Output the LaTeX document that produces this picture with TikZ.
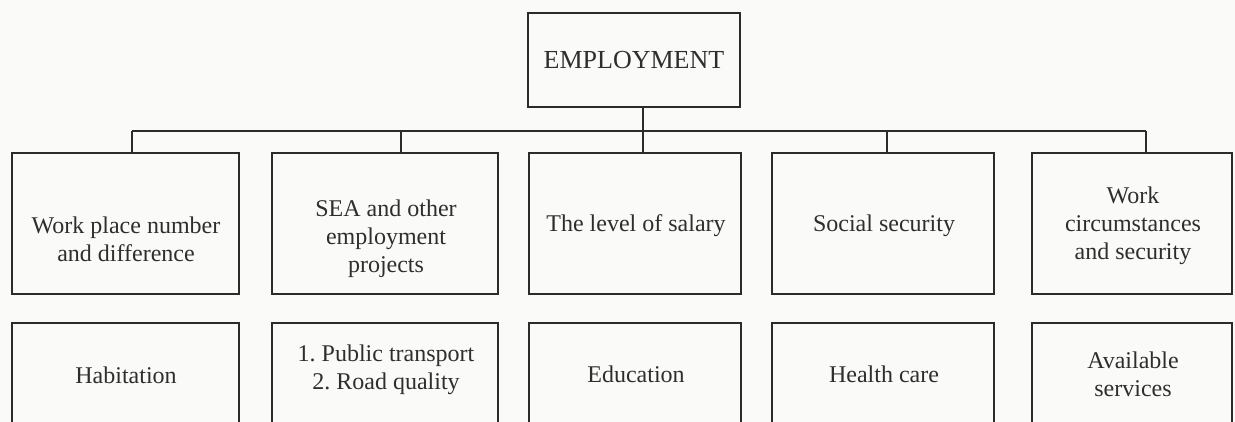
\documentclass[tikz,border=0pt]{standalone}
\usepackage{fontspec}
\setmainfont{Liberation Serif}
\frenchspacing
\begin{document}
\begin{tikzpicture}[x=1pt,y=-1pt,
  box/.style={draw=boxline, line width=1.6pt, inner sep=0pt, outer sep=0pt},
  lbl/.style={text=ink, font=\fontsize{24}{28}\selectfont, align=center, inner sep=0pt},
  link/.style={draw=boxline, line width=1.6pt}]
\definecolor{boxline}{HTML}{2B2B2B}
\definecolor{ink}{HTML}{2E2E2E}
\definecolor{paper}{HTML}{FAFAF8}
% canvas
\useasboundingbox (0,0) rectangle (1235,422);
\fill[paper] (0,0) rectangle (1235,422);
\clip (0,0) rectangle (1235,422);

% root
\node[box, text=ink, font=\fontsize{26}{30}\selectfont,
      minimum width=212pt, minimum height=94pt] (top) at (634,60) {EMPLOYMENT};

% first row of boxes
\node[box, minimum width=227pt, minimum height=141pt] (a1) at (125.5,223.5) {};
\node[box, minimum width=226pt, minimum height=141pt] (a2) at (385,223.5) {};
\node[box, minimum width=212pt, minimum height=141pt] (a3) at (635,223.5) {};
\node[box, minimum width=222pt, minimum height=141pt] (a4) at (883,223.5) {};
\node[box, minimum width=200pt, minimum height=141pt] (a5) at (1132,223.5) {};

\node[lbl] (ta1) at (126,239) {Work place number\\and difference};
\node[lbl] (ta2) at (386,239) {SEA and other\\employment\\projects};
\node[lbl] (ta3) at (636,226) {The level of salary};
\node[lbl] (ta4) at (884,226) {Social security};
\node[lbl] (ta5) at (1133,226) {Work\\circumstances\\and security};

% second row of boxes (running past the lower edge)
\node[box, minimum width=227pt, minimum height=130pt] (b1) at (125.5,388) {};
\node[box, minimum width=226pt, minimum height=130pt] (b2) at (385,388) {};
\node[box, minimum width=212pt, minimum height=130pt] (b3) at (635,388) {};
\node[box, minimum width=222pt, minimum height=130pt] (b4) at (883,388) {};
\node[box, minimum width=200pt, minimum height=130pt] (b5) at (1132,388) {};

\node[lbl] (tb1) at (126,375) {Habitation};
\node[lbl] (tb2) at (386,370) {1. Public transport\\2. Road quality};
\node[lbl] (tb3) at (636,374) {Education};
\node[lbl] (tb4) at (884,374) {Health care};
\node[lbl] (tb5) at (1133,374) {Available\\services};

% junctions on the bus line
\coordinate (j1) at (132,131);
\coordinate (j2) at (401,131);
\coordinate (j3) at (643,131);
\coordinate (j4) at (887,131);
\coordinate (j5) at (1146,131);

% connectors
\draw[link] (j1) -- (j5);
\draw[link] (j3 |- top.south) -- (j3 |- a3.north);
\draw[link] (j1) -- (j1 |- a1.north);
\draw[link] (j2) -- (j2 |- a2.north);
\draw[link] (j4) -- (j4 |- a4.north);
\draw[link] (j5) -- (j5 |- a5.north);
\end{tikzpicture}
\end{document}
